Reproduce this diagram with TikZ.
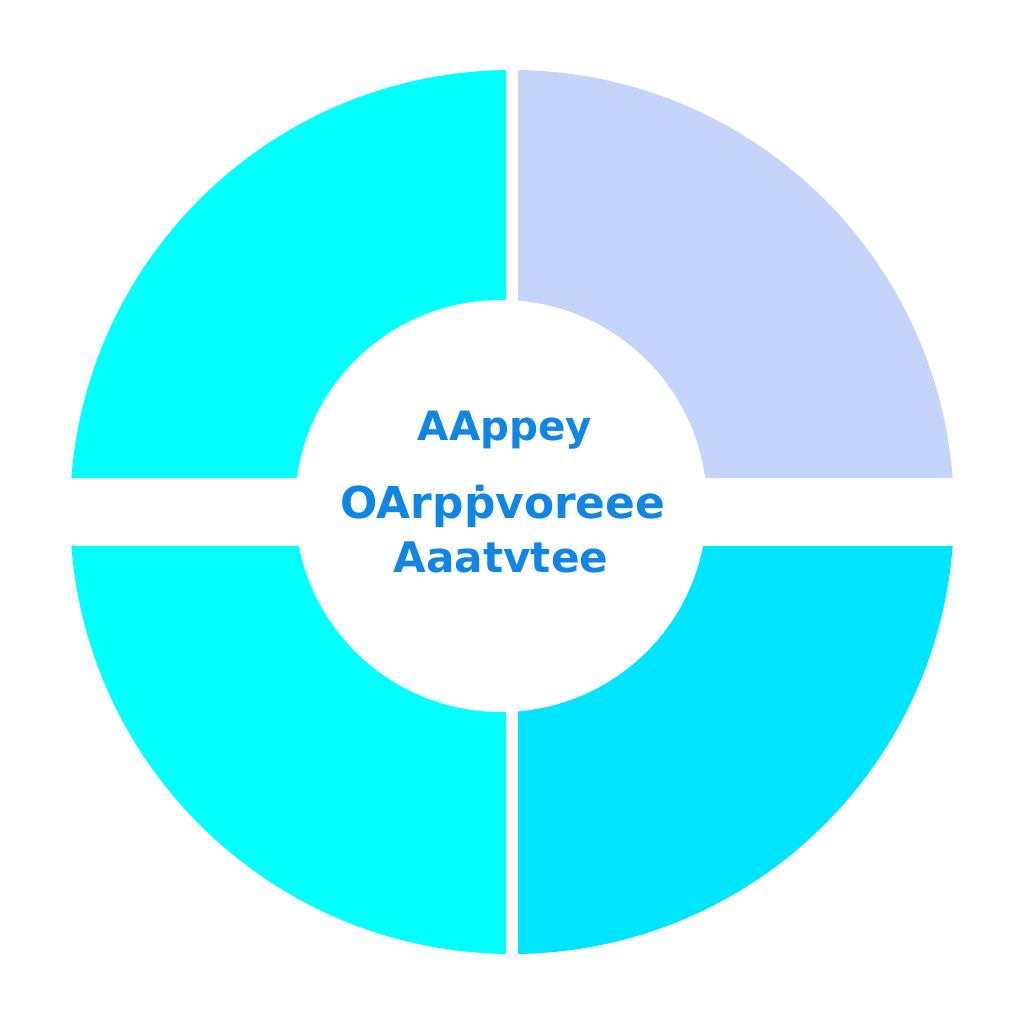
\documentclass[tikz,border=0pt]{standalone}
\usepackage{fontspec}
\usepackage{tikz}
\usetikzlibrary{positioning}
\usepackage{xcolor}
\newfontfamily\hubfont{DejaVu Sans}
\definecolor{ringcyan}{RGB}{0,255,255}
\definecolor{ringlav}{RGB}{197,213,250}
\definecolor{ringsky}{RGB}{0,229,255}
\definecolor{hubblue}{RGB}{16,134,226}

\begin{document}
\begin{tikzpicture}[
seg/.style={draw=none},
lbl/.style={text=hubblue,inner sep=0pt,anchor=base}
]
\useasboundingbox (-5.12,-5.12) rectangle (5.12,5.12);
\fill[white] (-5.12,-5.12) rectangle (5.12,5.12);

% four quarters of the ring
\fill[seg,ringcyan] (-0.06,0.34) -- (90.78:4.42) arc[start angle=90.78,end angle=175.59,radius=4.42] -- cycle;
\fill[seg,ringlav] (0.06,0.34) -- (4.41:4.42) arc[start angle=4.41,end angle=89.22,radius=4.42] -- cycle;
\fill[seg,ringcyan] (-0.06,-0.34) -- (184.41:4.42) arc[start angle=184.41,end angle=269.22,radius=4.42] -- cycle;
\fill[seg,ringsky] (0.06,-0.34) -- (270.78:4.42) arc[start angle=270.78,end angle=355.59,radius=4.42] -- cycle;

% hub
\fill[white] (-0.11,0.06) circle[radius=2.06];
\node[lbl,font=\hubfont\bfseries\fontsize{11.5}{14}\selectfont] (first) at (-0.07,0.72) {AAppey};
\node[lbl,font=\hubfont\bfseries\fontsize{12.5}{15}\selectfont] (second) at (-0.09,-0.06) {OArpṗvoreee};
\node[lbl,font=\hubfont\bfseries\fontsize{12}{14}\selectfont] (third) at (-0.11,-0.60) {Aaatvtee};
\end{tikzpicture}
\end{document}
